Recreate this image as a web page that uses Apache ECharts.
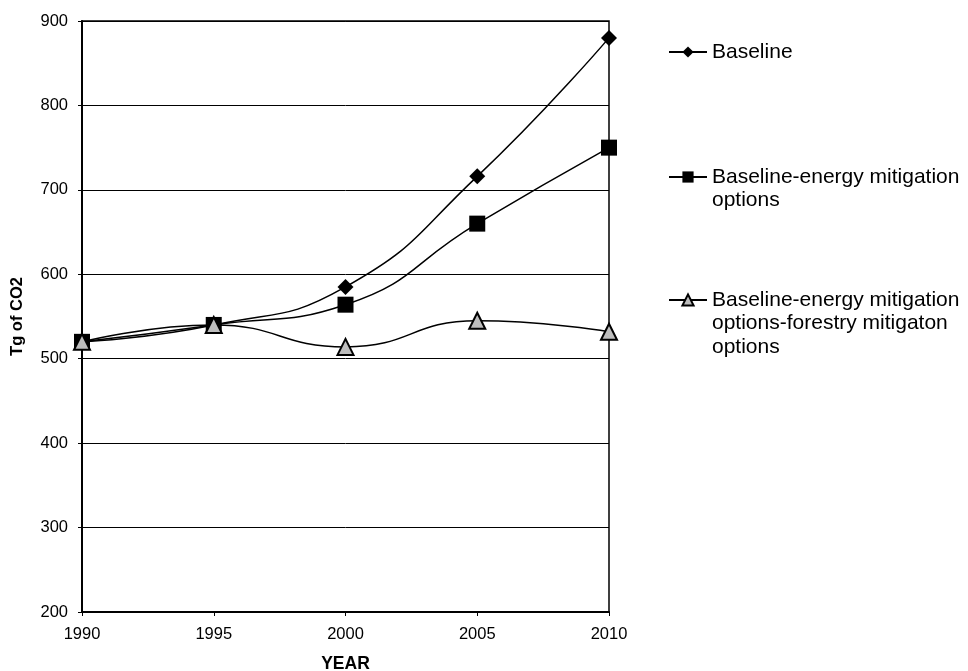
<!DOCTYPE html>
<html>
<head>
<meta charset="utf-8">
<script src="https://cdn.jsdelivr.net/npm/echarts@6/dist/echarts.min.js"></script>
<style>
  html, body { margin: 0; padding: 0; background: #fff; }
  #chart { width: 968px; height: 671px; }
</style>
</head>
<body>
<div id="chart"></div>
<script>
// years on the x axis
const years = ['1990', '1995', '2000', '2005', '2010']
// Tg of CO2
const baseline = [520, 540, 585, 716, 880]
const energyMitigation = [520, 540, 564, 660, 750]
const forestryMitigation = [520, 540, 514, 545, 532]

const names = [
  'Baseline',
  'Baseline-energy mitigation\noptions',
  'Baseline-energy mitigation\noptions-forestry mitigaton\noptions'
]

const font = 'Arial, "Liberation Sans", sans-serif'
const lineH = 23.5

// one legend per series; empty lines on top keep the icon on the first text line
function makeLegend(name, iconY) {
  const lines = name.split('\n').length
  const blockH = lineH * (2 * lines - 1)
  return {
    data: [name],
    left: 668,
    top: iconY - blockH / 2,
    padding: 0,
    itemWidth: 38,
    itemHeight: 14,
    selectedMode: false,
    formatter: n => '\n'.repeat(lines - 1) + n,
    textStyle: {
      fontFamily: font,
      fontSize: 21,
      color: '#000',
      lineHeight: lineH
    }
  }
}

const chart = echarts.init(document.getElementById('chart'))

const option = {
  backgroundColor: '#fff',
  animation: false,
  legend: [
    makeLegend(names[0], 52),
    makeLegend(names[1], 177),
    makeLegend(names[2], 300)
  ],
  grid: {
    left: 82,
    right: 359,
    top: 21,
    bottom: 59,
    outerBoundsMode: 'none',
    show: true,
    borderColor: '#000',
    borderWidth: 1.5
  },
  xAxis: {
    type: 'category',
    data: years,
    boundaryGap: false,
    name: 'YEAR',
    nameLocation: 'middle',
    nameGap: 43,
    nameTextStyle: { fontFamily: font, fontSize: 17.5, fontWeight: 'bold', color: '#000' },
    axisLine: { lineStyle: { color: '#000', width: 2 } },
    axisTick: { show: true, length: 4, lineStyle: { color: '#000', width: 1 } },
    axisLabel: { fontFamily: font, fontSize: 16.5, color: '#000', margin: 14 },
    splitLine: { show: false }
  },
  yAxis: {
    type: 'value',
    min: 200,
    max: 900,
    interval: 100,
    name: 'Tg of CO2',
    nameLocation: 'middle',
    nameGap: 56,
    nameTextStyle: { fontFamily: font, fontSize: 16.5, fontWeight: 'bold', color: '#000' },
    axisLine: { show: true, lineStyle: { color: '#000', width: 2 } },
    axisTick: { show: true, length: 4, lineStyle: { color: '#000', width: 1 } },
    axisLabel: { fontFamily: font, fontSize: 16.5, color: '#000', margin: 14 },
    splitLine: { show: true, lineStyle: { color: '#000', width: 1 } }
  },
  series: [
    {
      name: names[0],
      type: 'line',
      smooth: true,
      data: baseline,
      symbol: 'diamond',
      symbolSize: 16,
      lineStyle: { color: '#000', width: 1.5 },
      itemStyle: { color: '#000' }
    },
    {
      name: names[1],
      type: 'line',
      smooth: true,
      data: energyMitigation,
      symbol: 'rect',
      symbolSize: 16,
      lineStyle: { color: '#000', width: 1.5 },
      itemStyle: { color: '#000' }
    },
    {
      name: names[2],
      type: 'line',
      smooth: true,
      data: forestryMitigation,
      symbol: 'triangle',
      symbolSize: 16,
      lineStyle: { color: '#000', width: 1.5 },
      itemStyle: { color: '#bdbdbd', borderColor: '#000', borderWidth: 2 }
    }
  ]
}

chart.setOption(option)
</script>
</body>
</html>
